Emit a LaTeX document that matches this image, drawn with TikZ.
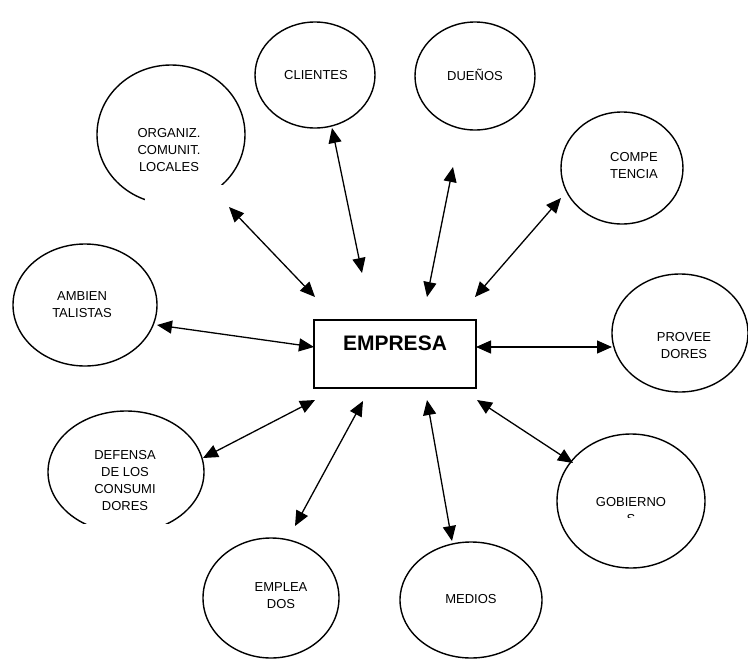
\documentclass[tikz,border=0pt]{standalone}
\usepackage{fontspec}
\setmainfont{Liberation Sans}
\usetikzlibrary{shapes.geometric,arrows.meta}
\begin{document}
\begin{tikzpicture}[x=1pt,y=-1pt,
  ell/.style={draw, line width=1.4pt, ellipse, inner sep=0pt},
  lbl/.style={font=\fontsize{13}{17}\selectfont, align=center, inner sep=0pt},
  conn/.style={line width=1.3pt, {Triangle[length=15pt,width=13pt]}-{Triangle[length=15pt,width=13pt]}}]
\useasboundingbox (0,0) rectangle (748,659);
% ellipses
\node[ell, minimum width=120pt, minimum height=106pt] (cli) at (315,75) {};
\node[ell, minimum width=120pt, minimum height=108pt] (due) at (475,76) {};
\node[ell, minimum width=148pt, minimum height=139pt] (org) at (171,134.5) {};
\node[ell, minimum width=122pt, minimum height=112pt] (com) at (622,168) {};
\node[ell, minimum width=144pt, minimum height=122pt] (amb) at (85,305) {};
\node[ell, minimum width=136pt, minimum height=118pt] (pro) at (680,333) {};
\node[ell, minimum width=156pt, minimum height=122pt] (def) at (126,472) {};
\node[ell, minimum width=148pt, minimum height=134pt] (gob) at (631,501) {};
\node[ell, minimum width=136pt, minimum height=120pt] (emp) at (271,598) {};
\node[ell, minimum width=142pt, minimum height=116pt] (med) at (471,600) {};
% white breaks in two outlines, as in the reference
\fill[white] (145,185) rectangle (228,212);
\fill[white] (79,524) rectangle (176,540);
% central box
\node[draw, line width=1.4pt, minimum width=162pt, minimum height=68pt, inner sep=0pt] (box) at (395,354) {};
\node[font=\fontsize{21}{25}\selectfont\bfseries, inner sep=0pt] (empresa) at (395,343) {EMPRESA};
% labels
\node[lbl] (tcli) at (316,75) {CLIENTES};
\node[lbl] (tdue) at (475,75) {DUEÑOS};
\node[lbl] (torg) at (169,150) {ORGANIZ.\\COMUNIT.\\LOCALES};
\node[lbl] (tcom) at (634,166) {COMPE\\TENCIA};
\node[lbl] (tamb) at (82,305) {AMBIEN\\TALISTAS};
\node[lbl] (tpro) at (684,346) {PROVEE\\DORES};
\node[lbl] (tdef) at (125,481) {DEFENSA\\DE LOS\\CONSUMI\\DORES};
\node[lbl] (tgob) at (631,502) {GOBIERNO};
\begin{scope}
  \clip (600,510) rectangle (660,517.5);
  \node[lbl, anchor=base] (tgobs) at (631,523.6) {S};
\end{scope}
\node[lbl] (temp) at (281,596) {EMPLEA\\DOS};
\node[lbl] (tmed) at (471,599) {MEDIOS};
% connector end points
\coordinate (a1) at (229,207); \coordinate (b1) at (315,297);
\coordinate (a2) at (332,128); \coordinate (b2) at (362,273);
\coordinate (a3) at (453,167); \coordinate (b3) at (427,297);
\coordinate (a4) at (561,198); \coordinate (b4) at (475,297);
\coordinate (a5) at (157,325); \coordinate (b5) at (314,347);
\coordinate (a6) at (612,347); \coordinate (b6) at (476,347);
\coordinate (a7) at (573,463); \coordinate (b7) at (477,400);
\coordinate (a8) at (452,541); \coordinate (b8) at (427,400);
\coordinate (a9) at (295,526); \coordinate (b9) at (363,401);
\coordinate (a10) at (203,458); \coordinate (b10) at (315,400);
% connectors
\foreach \i in {1,...,10} { \draw[conn] (a\i) -- (b\i); }
\end{tikzpicture}
\end{document}
